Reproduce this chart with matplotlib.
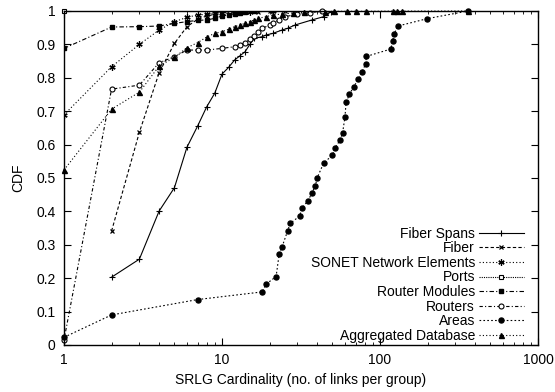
import matplotlib
matplotlib.use("Agg")
import matplotlib.pyplot as plt
from matplotlib.ticker import FixedLocator, LogLocator, NullFormatter, FixedFormatter

plt.rcParams['font.family'] = ['Liberation Sans', 'DejaVu Sans']

fiber_spans_x = [2, 3, 4, 5, 6, 7, 8, 9, 10, 11, 12, 13, 14, 15, 16, 18, 19, 21, 24, 26, 29, 37, 44, 49]
fiber_spans_y = [0.203, 0.257, 0.401, 0.471, 0.592, 0.655, 0.713, 0.754, 0.811, 0.831, 0.853, 0.866,
                 0.878, 0.900, 0.918, 0.923, 0.928, 0.933, 0.943, 0.948, 0.958, 0.973, 0.983, 0.998]

fiber_x = [2, 3, 4, 5, 6, 7, 8, 9, 10, 12, 14, 17, 20, 25]
fiber_y = [0.341, 0.637, 0.815, 0.903, 0.953, 0.975, 0.985, 0.990, 0.993, 0.995, 0.997, 0.998, 0.999, 1.0]

sonet_x = [1, 2, 3, 4, 5, 6, 7, 8, 9, 10, 12, 15, 21]
sonet_y = [0.689, 0.833, 0.900, 0.943, 0.968, 0.981, 0.988, 0.990, 0.993, 0.995, 0.997, 0.998, 1.0]

ports_x = [1]
ports_y = [1.0]

modules_x = [1, 2, 3, 4, 5, 6, 7, 8, 9, 10, 11, 12, 13, 14, 16]
modules_y = [0.888, 0.952, 0.953, 0.955, 0.963, 0.968, 0.972, 0.973, 0.978, 0.985, 0.988, 0.990,
             0.993, 0.996, 1.0]

routers_x = [1, 2, 3, 4, 5, 6, 7, 8, 10, 12, 13, 14, 15, 16, 17, 18, 20, 21, 23, 25, 30, 36, 43]
routers_y = [0.015, 0.766, 0.778, 0.845, 0.863, 0.883, 0.883, 0.883, 0.888, 0.893, 0.898, 0.905,
             0.915, 0.925, 0.936, 0.948, 0.958, 0.965, 0.973, 0.983, 0.990, 0.995, 1.0]

areas_x = [1, 2, 7, 18, 19, 22, 23, 24, 26, 27, 31, 32, 35, 37, 39, 40, 44, 50, 52, 56,
           58, 60, 61, 64, 68, 73, 77, 81, 82, 117, 120, 123, 130, 199, 361]
areas_y = [0.023, 0.090, 0.136, 0.159, 0.182, 0.205, 0.272, 0.294, 0.341, 0.364, 0.386, 0.409,
           0.432, 0.454, 0.477, 0.500, 0.545, 0.568, 0.591, 0.614, 0.636, 0.682, 0.727, 0.750,
           0.773, 0.795, 0.818, 0.841, 0.864, 0.886, 0.909, 0.932, 0.955, 0.977, 1.0]

aggr_x = [1, 2, 3, 4, 5, 6, 7, 8, 9, 10, 11, 12, 13, 14, 15, 16, 17, 19, 21, 24, 28, 33, 45,
          51, 62, 70, 81, 120, 128, 138, 362]
aggr_y = [0.524, 0.706, 0.757, 0.835, 0.861, 0.890, 0.905, 0.922, 0.933, 0.938, 0.945, 0.953,
          0.958, 0.963, 0.968, 0.973, 0.978, 0.983, 0.988, 0.991, 0.994, 0.996, 0.998,
          0.999, 0.999, 0.999, 0.999, 0.9995, 0.9995, 0.9995, 1.0]

y_ticks = [0, 0.1, 0.2, 0.3, 0.4, 0.5, 0.6, 0.7, 0.8, 0.9, 1]
y_tick_labels = ['0', '0.1', '0.2', '0.3', '0.4', '0.5', '0.6', '0.7', '0.8', '0.9', '1']
x_ticks = [1, 10, 100, 1000]
x_tick_labels = ['1', '10', '100', '1000']

FS = 10

fig = plt.figure(figsize=(5.55, 3.92), dpi=100)
ax = fig.add_axes([0.1153, 0.1199, 0.8541, 0.8521])

lw = 0.8
ax.plot(fiber_spans_x, fiber_spans_y, color='black', lw=lw, ls='-', marker='+', ms=4.5, mew=0.8,
        label='Fiber Spans')
ax.plot(fiber_x, fiber_y, color='black', lw=lw, ls=(0, (3, 2)), marker='x', ms=3.5, mew=0.9,
        label='Fiber')
ax.plot(sonet_x, sonet_y, color='black', lw=lw, ls=(0, (1, 2)), marker=(6, 2, 0), ms=4.5, mew=0.9,
        label='SONET Network Elements')
ax.plot(ports_x, ports_y, color='black', lw=lw, ls=(0, (1, 1)), marker='s', ms=3.2, mew=0.8,
        mfc='white', label='Ports', clip_on=False)
ax.plot(modules_x, modules_y, color='black', lw=lw, ls=(0, (4, 2, 1, 2)), marker='s', ms=3.0,
        label='Router Modules')
ax.plot(routers_x, routers_y, color='black', lw=lw, ls=(0, (3, 2, 1, 2)), marker='o', ms=3.6,
        mew=0.8, mfc='white', label='Routers', clip_on=False)
ax.plot(areas_x, areas_y, color='black', lw=lw, ls=(0, (1.5, 2)), marker='o', ms=3.6,
        label='Areas', clip_on=False)
ax.plot(aggr_x, aggr_y, color='black', lw=lw, ls=(0, (1, 2)), marker='^', ms=3.6,
        label='Aggregated Database', clip_on=False)

ax.set_xscale('log')
ax.set_xlim(1, 1000)
ax.set_ylim(0, 1)
ax.xaxis.set_major_locator(FixedLocator(x_ticks))
ax.xaxis.set_major_formatter(FixedFormatter(x_tick_labels))
ax.xaxis.set_minor_locator(LogLocator(base=10, subs=range(2, 10)))
ax.xaxis.set_minor_formatter(NullFormatter())
ax.yaxis.set_major_locator(FixedLocator(y_ticks))
ax.yaxis.set_major_formatter(FixedFormatter(y_tick_labels))

ax.tick_params(which='both', direction='in', top=True, right=True, labelsize=FS, colors='black')
ax.tick_params(which='major', length=5, width=0.8, pad=6)
ax.tick_params(which='minor', length=2.5, width=0.6)
for s in ax.spines.values():
    s.set_linewidth(1.0)

ax.set_xlabel('SRLG Cardinality (no. of links per group)', fontsize=FS, labelpad=4)
ax.set_ylabel('CDF', fontsize=FS, labelpad=8)

leg = ax.legend(loc='lower right', bbox_to_anchor=(0.99, -0.022), frameon=False, markerfirst=False,
                fontsize=FS, handlelength=3.2, labelspacing=0.04, handletextpad=0.3,
                borderaxespad=0.3)

fig.savefig('out.png', dpi=100)
